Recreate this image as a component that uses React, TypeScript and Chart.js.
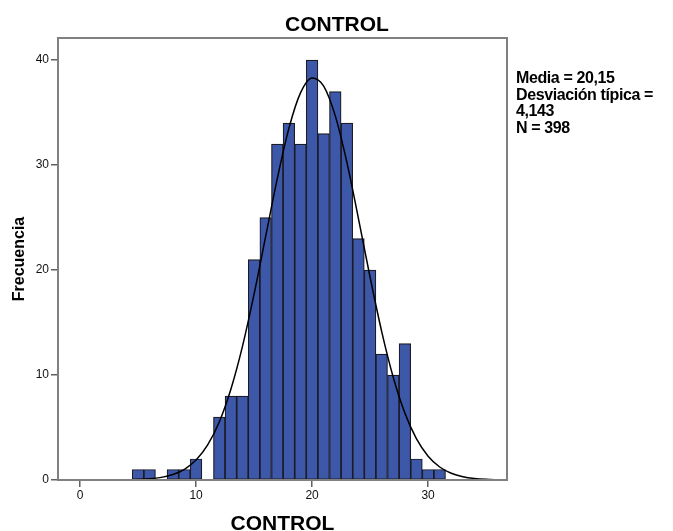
import React, { useEffect, useRef } from "react";
import { Chart, registerables } from "chart.js";

Chart.register(...registerables);

// Histogram bins (bin width 1, centred on integers)
const binCenters = [5, 6, 7, 8, 9, 10, 11, 12, 13, 14, 15, 16, 17, 18, 19, 20, 21, 22, 23, 24, 25, 26, 27, 28, 29, 30, 31];
const frequencies = [1, 1, null, 1, 1, 2, null, 6, 8, 8, 21, 25, 32, 34, 32, 40, 33, 37, 34, 23, 20, 12, 10, 13, 2, 1, 1];

// Normal curve
const curveX = [-2, -1, 0, 1, 2, 3, 4, 5, 6, 7, 8, 9, 10, 11, 12, 13, 14, 15, 16, 17, 18, 19, 20, 21, 22, 23, 24, 25, 26, 27, 28, 29, 30, 31, 32, 33, 34, 35, 36, 37];
const curveY = [0, 0, 0, 0, 0, 0.01, 0.02, 0.05, 0.11, 0.25, 0.52, 1.02, 1.9, 3.34, 5.53, 8.65, 12.73, 17.7, 23.2, 28.7, 33.49, 36.87, 38.3, 37.52, 34.68, 30.25, 24.88, 19.31, 14.14, 9.77, 6.37, 3.91, 2.27, 1.24, 0.64, 0.31, 0.14, 0.06, 0.03, 0.01];

const xTicks = [0, 10, 20, 30];
const yTicks = [0, 10, 20, 30, 40];

const chartTitle = "CONTROL";
const xTitle = "CONTROL";
const yTitle = "Frecuencia";
const statsLines = ["Media = 20,15", "Desviación típica =", "4,143", "N = 398"];

const FONT = "'Liberation Sans', Arial, sans-serif";

const decorPlugin = {
  id: "decor",
  afterDraw(chart: any) {
    const { ctx, chartArea } = chart;
    const { left, right, top, bottom } = chartArea;
    ctx.save();
    // frame
    ctx.strokeStyle = "#808080";
    ctx.lineWidth = 2;
    ctx.strokeRect(left, top, right - left, bottom - top);

    ctx.fillStyle = "#000";
    // main title
    ctx.font = `bold 21px ${FONT}`;
    ctx.textAlign = "center";
    ctx.textBaseline = "alphabetic";
    ctx.fillText(chartTitle, 337, 30.5);
    // x title
    ctx.fillText(xTitle, (left + right) / 2, 530);
    // y title
    ctx.save();
    ctx.translate(23.5, (top + bottom) / 2);
    ctx.rotate(-Math.PI / 2);
    ctx.font = `bold 16px ${FONT}`;
    ctx.fillText(yTitle, 0, 0);
    ctx.restore();

    // stats
    ctx.font = `bold 16px ${FONT}`;
    ctx.textAlign = "left";
    (ctx as any).letterSpacing = "-0.4px";
    statsLines.forEach((s, i) => {
      ctx.fillText(s, 516, 83 + i * 16.7);
    });
    (ctx as any).letterSpacing = "0px";
    ctx.restore();
  },
};

export default function App() {
  const ref = useRef<HTMLCanvasElement | null>(null);

  useEffect(() => {
    if (!ref.current) return;
    const chart = new Chart(ref.current, {
      type: "bar",
      data: {
        datasets: [
          {
            type: "line",
            data: curveX.map((x, i) => ({ x, y: curveY[i] })),
            borderColor: "#000",
            borderWidth: 1.5,
            pointRadius: 0,
            fill: false,
            cubicInterpolationMode: "monotone",
            order: 1,
          } as any,
          {
            type: "bar",
            data: binCenters.map((x, i) => ({ x, y: frequencies[i] })),
            backgroundColor: "#3d57a9",
            borderColor: "#1c1c28",
            borderWidth: 1.2,
            borderSkipped: false,
            barPercentage: 1,
            categoryPercentage: 1,
            order: 2,
          } as any,
        ],
      },
      options: {
        responsive: false,
        animation: false,
        devicePixelRatio: 1,
        layout: { padding: { top: 38, right: 166, left: 0, bottom: 0 } },
        plugins: {
          legend: { display: false },
          tooltip: { enabled: false },
          title: { display: false },
        },
        scales: {
          x: {
            type: "linear",
            min: -1.9,
            max: 36.8,
            offset: false,
            afterBuildTicks: (scale: any) => {
              scale.ticks = xTicks.map((v) => ({ value: v }));
            },
            afterFit: (scale: any) => {
              scale.height = 51;
            },
            grid: {
              display: true,
              offset: false,
              drawOnChartArea: false,
              drawTicks: true,
              tickLength: 7,
              color: "#606060",
              lineWidth: 1.5,
            },
            border: { display: false },
            ticks: {
              font: { family: FONT, size: 12 },
              color: "#111",
              padding: 1,
              maxRotation: 0,
              autoSkip: false,
            },
          },
          y: {
            type: "linear",
            min: 0,
            max: 42.1,
            afterBuildTicks: (scale: any) => {
              scale.ticks = yTicks.map((v) => ({ value: v }));
            },
            afterFit: (scale: any) => {
              scale.width = 58;
            },
            grid: {
              display: true,
              drawOnChartArea: false,
              drawTicks: true,
              tickLength: 7,
              color: "#606060",
              lineWidth: 1.5,
            },
            border: { display: false },
            ticks: {
              font: { family: FONT, size: 12 },
              color: "#111",
              padding: 2,
              autoSkip: false,
            },
          },
        },
      } as any,
      plugins: [decorPlugin],
    });
    return () => chart.destroy();
  }, []);

  return (
    <div style={{ position: "absolute", left: 0, top: 0, width: 673, height: 531, background: "#fff" }}>
      <canvas ref={ref} width={673} height={531} style={{ display: "block" }} />
    </div>
  );
}
